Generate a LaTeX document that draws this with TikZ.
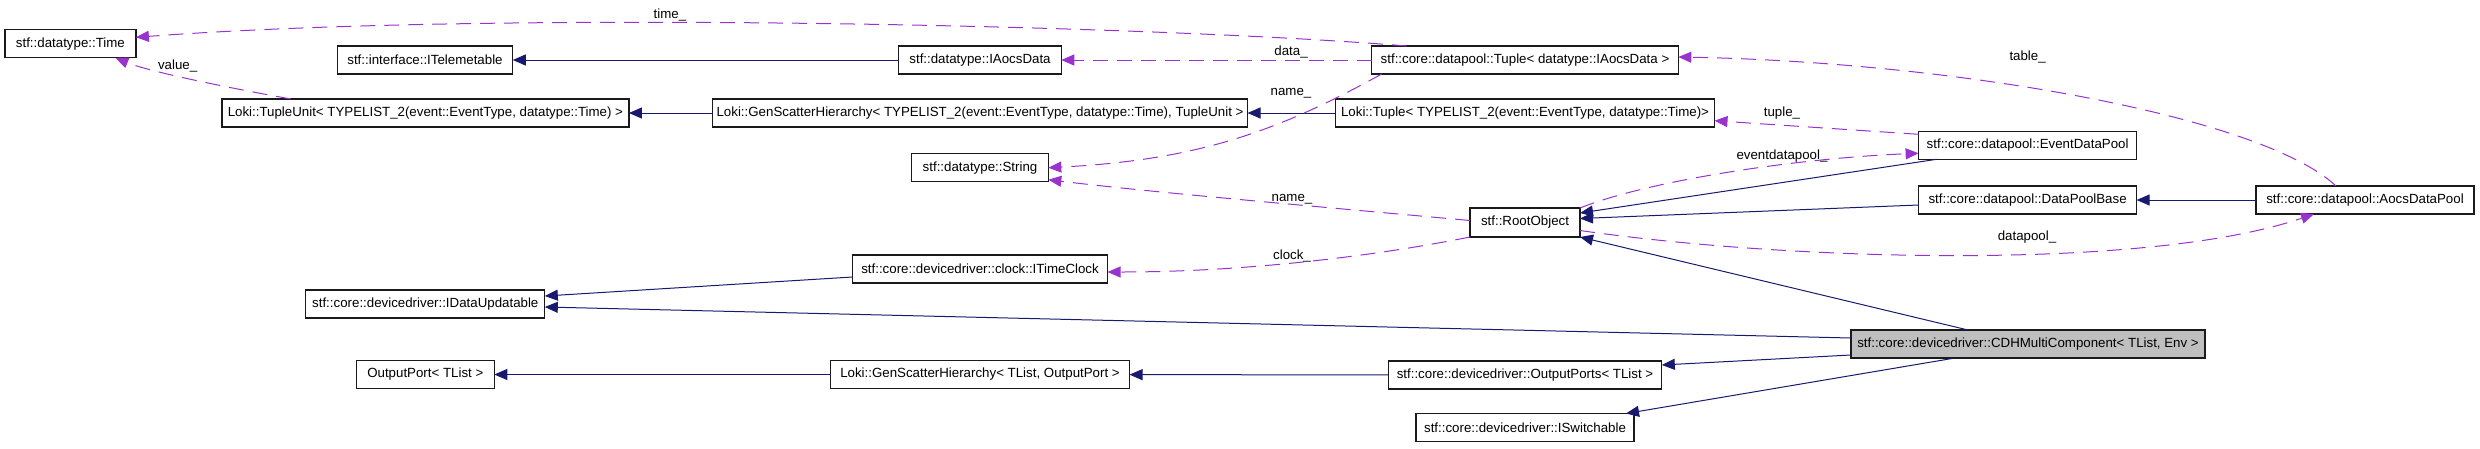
\documentclass[tikz,border=0pt]{standalone}
\usepackage{fontspec}
\setmainfont{Liberation Sans}
\usepackage{tikz}
\usetikzlibrary{arrows.meta}
\definecolor{inhblue}{HTML}{191970}
\definecolor{usepurple}{HTML}{9A32CD}
\definecolor{mainfill}{HTML}{BFBFBF}
\definecolor{boxline}{HTML}{1A1A1A}

\begin{document}
\begin{tikzpicture}[x=1pt,y=-1pt,
    font=\fontsize{13.3}{16}\selectfont,
    cls/.style={draw=boxline,line width=1.3pt,fill=white,inner sep=0pt,outer sep=0pt,minimum height=28},
    lbl/.style={anchor=base,inner sep=0pt},
    inh/.style={inhblue,line width=1pt,-{Triangle[length=13pt,width=11pt]}},
    usage/.style={usepurple,line width=1pt,dash pattern=on 15pt off 9pt,-{Triangle[length=13pt,width=11pt]}}]
    \useasboundingbox (0,0) rectangle (2480,448);

    \node[cls,minimum width=131] (time) at (70.4,43.8) {stf::datatype::Time};
    \node[cls,minimum width=175.5] (itelem) at (425,60) {stf::interface::ITelemetable};
    \node[cls,minimum width=407] (tunit) at (425.4,113) {Loki::TupleUnit< TYPELIST\_2(event::EventType, datatype::Time) >};
    \node[cls,minimum width=162.5] (iaocs) at (980,60) {stf::datatype::IAocsData};
    \node[cls,minimum width=535] (gsh2) at (980,113) {Loki::GenScatterHierarchy< TYPELIST\_2(event::EventType, datatype::Time), TupleUnit >};
    \node[cls,minimum width=136.6] (string) at (980,167.7) {stf::datatype::String};
    \node[cls,minimum width=306.6] (tuple) at (1525,60) {stf::core::datapool::Tuple< datatype::IAocsData >};
    \node[cls,minimum width=379] (lokit) at (1525,113) {Loki::Tuple< TYPELIST\_2(event::EventType, datatype::Time)>};
    \node[cls,minimum width=110,minimum height=29] (root) at (1525,222.5) {stf::RootObject};
    \node[cls,minimum width=218] (evdp) at (2027.6,145.3) {stf::core::datapool::EventDataPool};
    \node[cls,minimum width=218] (dpb) at (2027.6,200) {stf::core::datapool::DataPoolBase};
    \node[cls,minimum width=218] (aocs) at (2365,200) {stf::core::datapool::AocsDataPool};
    \node[cls,minimum width=239] (idu) at (425.3,304) {stf::core::devicedriver::IDataUpdatable};
    \node[cls,minimum width=138] (oport) at (425.3,374.5) {OutputPort< TList >};
    \node[cls,minimum width=255] (clock) at (980,269) {stf::core::devicedriver::clock::ITimeClock};
    \node[cls,minimum width=299] (gsho) at (980,374.5) {Loki::GenScatterHierarchy< TList, OutputPort >};
    \node[cls,minimum width=354,fill=mainfill] (cdh) at (2028,344) {stf::core::devicedriver::CDHMultiComponent< TList, Env >};
    \node[cls,minimum width=273.6] (oports) at (1525,375) {stf::core::devicedriver::OutputPorts< TList >};
    \node[cls,minimum width=218] (iswitch) at (1525,427.5) {stf::core::devicedriver::ISwitchable};

    \path[inh]
    (iaocs) edge (itelem)
    (gsh2) edge (tunit)
    (lokit) edge (gsh2)
    ([xshift=18]evdp.south west) edge ([yshift=9.5]root.east)
    ([yshift=-5]dpb.west) edge ([yshift=4]root.east)
    ([xshift=-60]cdh.north) edge (root.south east)
    (aocs) edge (dpb)
    ([yshift=-8]clock.west) edge ([yshift=8]idu.east)
    ([yshift=6]cdh.west) edge ([yshift=-3]idu.east)
    ([yshift=-11]cdh.west) edge ([yshift=10]oports.east)
    (oports) edge (gsho)
    (gsho) edge (oport)
    ([xshift=-73]cdh.south) edge ([xshift=-8]iswitch.north east)
    ;

    \draw[usage] ([xshift=35]tuple.north west) .. controls (1150,25) and (500,10) .. ([yshift=6.5]time.east);
    \draw[usage] (tuple) -- (iaocs);
    \draw[usage] ([xshift=10]tuple.south west) .. controls (1280,130) and (1200,160) .. (string.east);
    \draw[usage] ([xshift=69]tunit.north west) .. controls (230,88) and (150,72) .. ([xshift=45]time.south);
    \draw[usage] ([yshift=-3]evdp.north west) -- ([yshift=-7.7]lokit.east);
    \draw[usage] (root.north east) .. controls (1650,180) and (1800,158) .. ([yshift=-8]evdp.west);
    \draw[usage] ([yshift=2]root.west) .. controls (1300,205) and (1150,192) .. ([yshift=-12]string.east);
    \draw[usage] (root.south west) .. controls (1380,255) and (1250,272) .. ([yshift=-3]clock.east);
    \draw[usage] ([yshift=-8]root.east) .. controls (1800,262) and (2150,270) .. ([xshift=-51]aocs.south);
    \draw[usage] ([xshift=-29]aocs.north) .. controls (2260,115) and (1950,62) .. ([yshift=3]tuple.east);

    \node[lbl] (ltime) at (670,18.3) {time\_};
    \node[lbl] (ldata) at (1291,55.7) {data\_};
    \node[lbl] (lname) at (1291,95.7) {name\_};
    \node[lbl] (lvalue) at (177.6,69) {value\_};
    \node[lbl] (ltuple) at (1782,116.5) {tuple\_};
    \node[lbl] (levdp) at (1782,159.3) {eventdatapool\_};
    \node[lbl] (lname2) at (1292,201.7) {name\_};
    \node[lbl] (lclock) at (1292,259) {clock\_};
    \node[lbl] (ldpool) at (2027,240) {datapool\_};
    \node[lbl] (ltable) at (2027.6,60) {table\_};
  \end{tikzpicture}
\end{document}
